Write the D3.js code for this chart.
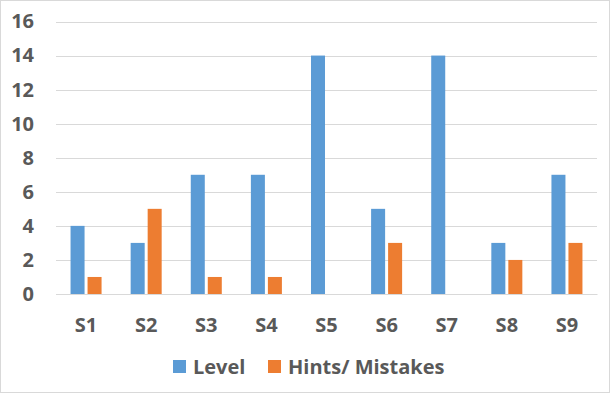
<!DOCTYPE html>
<html><head><meta charset="utf-8">
<script src="https://cdn.jsdelivr.net/npm/d3@7"></script>
<style>body{margin:0;background:#fff}svg{display:block}</style>
</head><body><svg id="c" width="610" height="393"></svg>
<script>
const categories = ["S1","S2","S3","S4","S5","S6","S7","S8","S9"];
const levelValues = [4,3,7,7,14,5,14,3,7];
const hintValues = [1,5,1,1,0,3,0,2,3];
const seriesNames = ["Level","Hints/ Mistakes"];
const seriesColors = ["#5b9bd5","#ed7d31"];
const yTicks = [0,2,4,6,8,10,12,14,16];

const svg = d3.select("#c");
const W = 610, H = 393;
const m = {left:56, right:13, top:21.5, bottom:99};
const font = "'Open Sans', sans-serif";
const fs = "20px";
svg.append("rect").attr("x",0.5).attr("y",0.5).attr("width",W-1).attr("height",H-1)
  .attr("fill","#fff").attr("stroke","#d9d9d9");

const x = d3.scaleBand().domain(categories).range([m.left, W-m.right]);
const x1 = d3.scaleBand().domain(seriesNames).range([0, x.bandwidth()]).paddingInner(0.176).paddingOuter(0.856);
const y = d3.scaleLinear().domain([0,16]).range([H-m.bottom, m.top]);

const gy = svg.append("g").attr("transform",`translate(${m.left},0)`)
  .call(d3.axisLeft(y).tickValues(yTicks).tickSize(-(W-m.left-m.right)).tickPadding(22));
gy.select(".domain").remove();
gy.selectAll(".tick line").attr("stroke","#d9d9d9").attr("shape-rendering","crispEdges");
gy.selectAll(".tick text").attr("fill","#595959").style("font-family",font).style("font-size",fs).style("font-weight","700");

const data = [levelValues, hintValues];
seriesNames.forEach((s,si)=>{
  svg.append("g").selectAll("rect").data(categories).join("rect")
    .attr("x",(c)=>x(c)+x1(s))
    .attr("width",x1.bandwidth())
    .attr("y",(c,i)=>y(data[si][i]))
    .attr("height",(c,i)=>y(0)-y(data[si][i]))
    .attr("fill",seriesColors[si]);
});

const gx = svg.append("g").attr("transform",`translate(0,${y(0)})`)
  .call(d3.axisBottom(x).tickSize(0).tickPadding(24));
gx.select(".domain").attr("stroke","#d9d9d9");
gx.selectAll(".tick text").attr("fill","#595959").style("font-family",font).style("font-size",fs).style("font-weight","700");

// legend
const leg = svg.append("g");
const legX = [173, 268];
seriesNames.forEach((s,i)=>{
  leg.append("rect").attr("x",legX[i]).attr("y",360).attr("width",13).attr("height",13).attr("fill",seriesColors[i]);
  leg.append("text").attr("x",legX[i]+20).attr("y",374).text(s)
    .attr("fill","#595959").style("font-family",font).style("font-size",fs).style("font-weight","700");
});
</script></body></html>
